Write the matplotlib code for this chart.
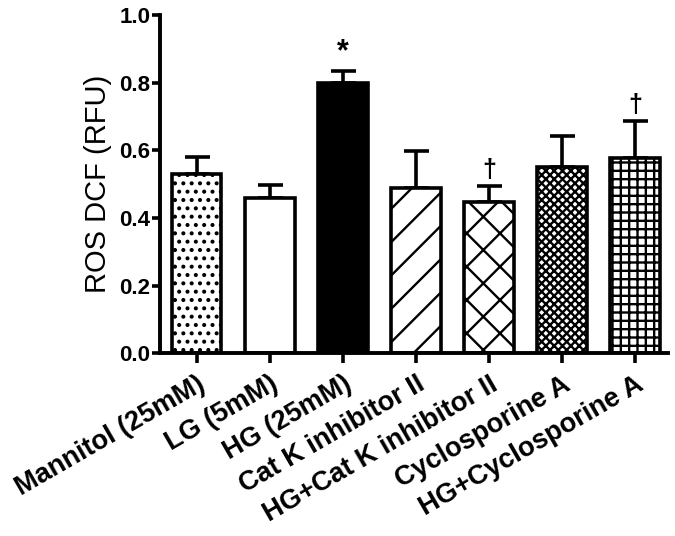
import matplotlib.pyplot as plt
import numpy as np

plt.rcParams['font.family'] = ['Liberation Sans', 'DejaVu Sans']
plt.rcParams['hatch.linewidth'] = 1.7

groups = ['Mannitol (25mM)', 'LG (5mM)', 'HG (25mM)', 'Cat K inhibitor II',
          'HG+Cat K inhibitor II', 'Cyclosporine A', 'HG+Cyclosporine A']
means = [0.53, 0.458, 0.80, 0.488, 0.447, 0.55, 0.577]
sems = [0.05, 0.039, 0.035, 0.11, 0.047, 0.092, 0.109]
marks = ['', '', '*', '', '\u2020', '', '\u2020']

fills = ['white', 'white', 'black', 'white', 'white', 'white', 'white']
hatches = ['..', '', '', '/', 'x', 'xxxx', '++']

fig = plt.figure(figsize=(6.75, 5.36), dpi=100)
ax = fig.add_axes([0.237, 0.341, 0.753, 0.631])

x = np.arange(len(groups))
bars = ax.bar(x, means, width=0.68, color=fills, edgecolor='black',
              linewidth=2.6, zorder=2)
for b, h in zip(bars, hatches):
    b.set_hatch(h)

ax.errorbar(x, means, yerr=[np.zeros(len(sems)), sems], fmt='none',
            ecolor='black', elinewidth=2.6, capsize=9, capthick=2.6, zorder=1)

for xi, m, s, t in zip(x, means, sems, marks):
    if t:
        ax.text(xi, m + s + 0.012, t, ha='center', va='bottom',
                fontsize=22 if t == '*' else 18, fontweight='bold')

ax.set_xlim(-0.5, 6.45)
ax.set_ylim(0, 1.0)
ax.set_yticks([0.0, 0.2, 0.4, 0.6, 0.8, 1.0])
ax.set_yticklabels(['0.0', '0.2', '0.4', '0.6', '0.8', '1.0'],
                   fontsize=16, fontweight='bold')
ax.set_xticks(x)
ax.set_xticklabels(groups, rotation=30, ha='right', va='top',
                   rotation_mode='anchor', fontsize=19.5, fontweight='bold')
ax.set_ylabel('ROS DCF (RFU)', fontsize=21, labelpad=5)

for side in ['top', 'right']:
    ax.spines[side].set_visible(False)
for side in ['left', 'bottom']:
    ax.spines[side].set_linewidth(2.8)
ax.tick_params(axis='both', width=2.6)
ax.tick_params(axis='y', length=6, pad=1)
ax.tick_params(axis='x', length=7, pad=6)

fig.savefig('out.png', dpi=100)
